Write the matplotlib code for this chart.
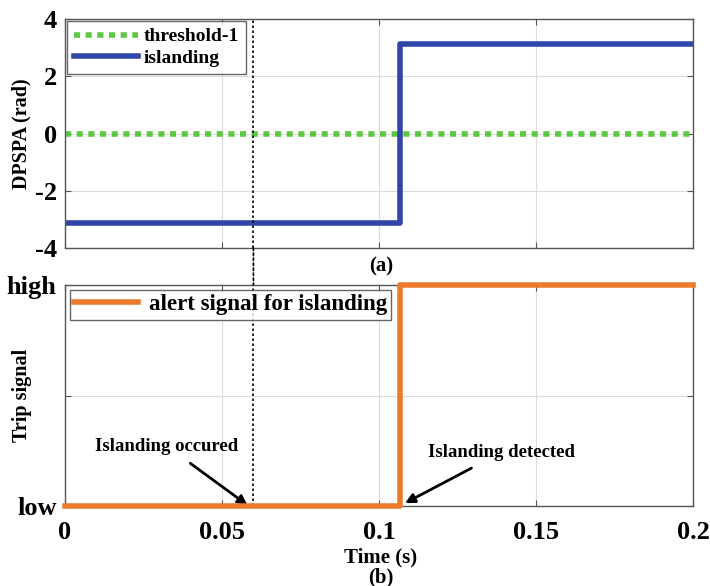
import matplotlib.pyplot as plt
from matplotlib.patches import ConnectionPatch

plt.rcParams['font.family'] = ['Liberation Serif', 'DejaVu Serif']
plt.rcParams['font.weight'] = 'bold'
plt.rcParams['axes.unicode_minus'] = False

# data
t_island = [0.0, 0.1067, 0.1067, 0.2]
dpspa = [-3.1416, -3.1416, 3.1416, 3.1416]
t_thr = [0.0, 0.2]
thr = [0.0, 0.0]
t_trip = [0.0, 0.1067, 0.1067, 0.2]
trip = [0, 0, 1, 1]
t_event = 0.06
t_detect = 0.1067
x_ticks = [0, 0.05, 0.1, 0.15, 0.2]
x_ticklabels = ['0', '0.05', '0.1', '0.15', '0.2']

blue = '#2f45a8'
green = '#5cc840'
orange = '#ec7a2c'

fig = plt.figure(figsize=(7.1, 5.86), dpi=100)
ax1 = fig.add_axes([65/710, 1 - 248/586, 628/710, 229/586])
ax2 = fig.add_axes([65/710, 1 - 506/586, 628/710, 221/586])

# (a) DPSPA
ax1.plot(t_thr, thr, color=green, lw=4, ls=(0, (1.1, 1.0)), label='threshold-1')
ax1.plot(t_island, dpspa, color=blue, lw=4, label='islanding')
ax1.set_xlim(0, 0.2)
ax1.set_ylim(-4, 4)
ax1.set_yticks([-4, -2, 0, 2, 4])
ax1.set_xticks(x_ticks)
ax1.set_xticklabels([])
ax1.set_ylabel('DPSPA (rad)', fontsize=14.5, fontweight='bold')
ax1.yaxis.set_label_coords(-0.053, 0.5)
ax1.axvline(t_event, color='black', lw=1.2, ls=(0, (1.5, 1.5)))
ax1.legend(loc='upper left', fontsize=14, frameon=True, fancybox=False,
           edgecolor='#404040', borderpad=0.35, handlelength=3.3,
           handletextpad=0.3, labelspacing=0.2, borderaxespad=0.1)
fig.text(381/710, 1 - 266/586, '(a)', ha='center', va='center',
         fontsize=15, fontweight='bold')

# (b) trip signal
ax2.plot(t_trip, trip, color=orange, lw=4, label='alert signal for islanding',
         clip_on=False, zorder=5)
ax2.set_xlim(0, 0.2)
ax2.set_ylim(0, 1)
ax2.set_yticks([0, 0.5, 1])
ax2.set_yticklabels(['low', '', 'high'])
ax2.set_xticks(x_ticks)
ax2.set_xticklabels(x_ticklabels)
ax2.set_ylabel('Trip signal', fontsize=14.5, fontweight='bold')
ax2.yaxis.set_label_coords(-0.053, 0.5)
ax2.axvline(t_event, color='black', lw=1.2, ls=(0, (1.5, 1.5)))
ax2.legend(loc='upper left', fontsize=16.5, frameon=True, fancybox=False,
           edgecolor='#404040', borderpad=0.2, handlelength=2.8,
           handletextpad=0.45, borderaxespad=0.2)
fig.text(381/710, 1 - 557/586, 'Time (s)', ha='center', va='center',
         fontsize=15, fontweight='bold')
fig.text(381/710, 1 - 577/586, '(b)', ha='center', va='center',
         fontsize=15, fontweight='bold')

ax2.annotate('Islanding occured', xy=(t_event - 0.0015, 0.0), xytext=(0.0325, 0.27),
             ha='center', va='center', fontsize=13.5, fontweight='bold',
             arrowprops=dict(arrowstyle='-|>', color='black', lw=2,
                             mutation_scale=14, shrinkA=7, shrinkB=1))
ax2.annotate('Islanding detected', xy=(t_detect + 0.0012, 0.01), xytext=(0.139, 0.243),
             ha='center', va='center', fontsize=13.5, fontweight='bold',
             arrowprops=dict(arrowstyle='-|>', color='black', lw=2,
                             mutation_scale=14, shrinkA=7, shrinkB=1))

# dotted event line across the gap between panels
con = ConnectionPatch(xyA=(t_event, -4), coordsA=ax1.transData,
                      xyB=(t_event, 1), coordsB=ax2.transData,
                      color='black', lw=1.2, ls=(0, (1.5, 1.5)))
fig.add_artist(con)

for ax in (ax1, ax2):
    ax.grid(True, color='#dcdcdc', lw=0.8)
    ax.tick_params(direction='in', top=True, right=True, labelsize=19,
                   length=4, color='#555555')
    ax.tick_params(axis='y', pad=6)
    ax.tick_params(axis='x', pad=11)
    for s in ax.spines.values():
        s.set_color('#555555')
        s.set_linewidth(1.0)
    for lab in ax.get_xticklabels() + ax.get_yticklabels():
        lab.set_fontweight('bold')

fig.savefig('out.png', dpi=100)
